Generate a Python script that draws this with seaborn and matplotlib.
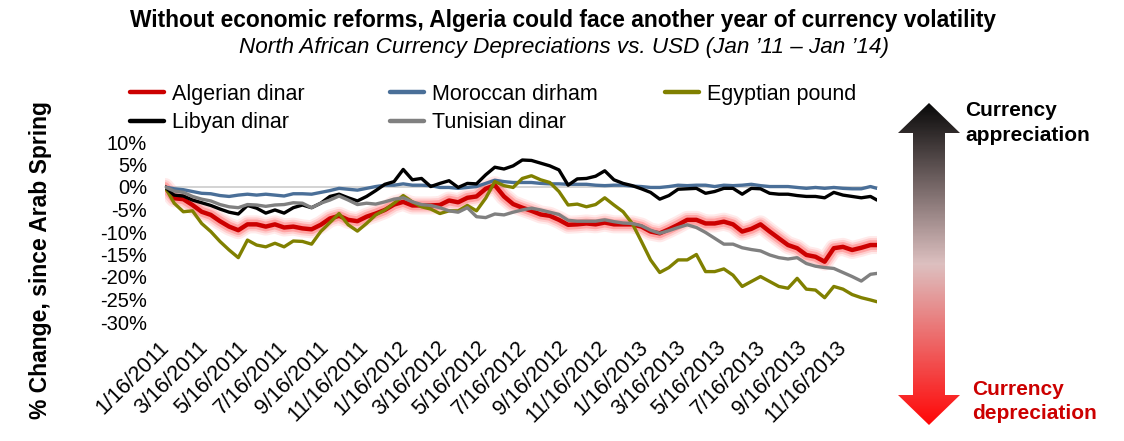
import numpy as np
import pandas as pd
import matplotlib
matplotlib.use("Agg")
import matplotlib.pyplot as plt
import matplotlib.dates as mdates
import matplotlib.patheffects as pe
from matplotlib.lines import Line2D
from matplotlib.patches import Polygon
from matplotlib.colors import LinearSegmentedColormap
import seaborn as sns

# ---------------- data ----------------
dates = list(pd.date_range("2011-01-14", periods=78, freq="14D")) + [pd.Timestamp("2014-01-06")]

algerian = [0, -2.5, -2.7, -4.0, -5.5, -6.2, -7.6, -8.8, -9.6, -8.3,
            -8.3, -8.8, -8.3, -9.0, -8.8, -9.2, -9.4, -8.4, -7.0, -6.4,
            -7.3, -7.6, -6.6, -5.9, -5.1, -3.9, -3.3, -4.1, -4.1, -4.1,
            -4.0, -3.0, -3.4, -2.4, -2.1, -0.4, 0.4, -2.1, -3.8, -4.6,
            -5.3, -6.1, -6.4, -7.3, -8.4, -8.3, -8.1, -8.3, -7.9, -8.3,
            -8.3, -8.3, -8.8, -9.9, -10.3, -9.4, -8.4, -7.3, -7.3, -8.1,
            -8.1, -7.7, -8.3, -9.9, -9.3, -8.3, -9.9, -11.4, -12.9, -13.6,
            -15.1, -15.5, -16.6, -13.6, -13.3, -14.0, -13.5, -12.9, -12.9]

moroccan = [0, -0.4, -0.6, -1.0, -1.4, -1.5, -1.9, -2.1, -1.8, -1.6,
            -1.8, -1.6, -1.8, -2.0, -1.5, -1.5, -1.6, -1.2, -0.8, -0.3,
            -0.5, -0.7, -0.3, 0.1, 0.4, 0.4, 0.7, 0.4, 0.4, 0.3,
            -0.1, -0.1, -0.3, -0.1, 0.1, 0.8, 1.5, 1.2, 1.0, 1.0,
            1.0, 0.8, 0.7, 0.7, 0.6, 0.6, 0.6, 0.4, 0.3, 0.4,
            0.4, 0.2, 0.1, -0.1, -0.1, 0.1, 0.4, 0.3, 0.4, 0.4,
            0.1, 0.4, 0.3, 0.4, 0.6, 0.3, 0.1, 0.1, 0.1, -0.1,
            -0.3, -0.1, -0.3, -0.1, -0.3, -0.4, -0.4, 0.1, -0.3]

egyptian = [0, -3.6, -5.5, -5.3, -8.1, -9.9, -12.1, -14.0, -15.7, -11.8,
            -12.9, -13.3, -12.5, -13.3, -12.0, -12.1, -12.7, -9.9, -7.9, -5.9,
            -8.4, -9.8, -8.1, -6.2, -5.1, -3.6, -1.9, -3.3, -4.4, -4.9,
            -5.9, -5.3, -5.3, -4.1, -5.3, -2.5, 1.2, 0.3, -0.1, 1.9,
            2.5, 1.6, 1.0, -1.0, -4.0, -3.8, -4.4, -3.9, -2.4, -4.0,
            -5.5, -8.1, -12.1, -16.2, -19.0, -17.9, -16.2, -16.2, -15.0, -18.8,
            -18.8, -18.2, -19.6, -22.1, -21.0, -19.9, -21.0, -22.1, -22.5, -20.3,
            -22.7, -22.9, -24.6, -22.1, -22.7, -23.9, -24.6, -25.1, -25.5]

libyan = [0, -1.8, -2.0, -2.9, -3.5, -4.1, -4.9, -5.6, -6.0, -4.1,
          -4.7, -5.8, -5.1, -5.8, -4.6, -4.0, -4.6, -3.6, -2.1, -1.6,
          -2.4, -3.1, -2.1, -0.8, 0.6, 1.2, 3.9, 1.6, 1.9, 0.1,
          0.8, 1.4, -0.1, 0.8, 0.7, 2.7, 4.4, 4.0, 4.7, 6.0,
          5.9, 5.3, 4.7, 3.8, 0.4, 1.8, 1.9, 2.4, 3.6, 1.6,
          0.8, 0.3, -0.4, -1.2, -2.7, -1.9, -0.5, -0.4, -0.3, -1.4,
          -1.0, -0.3, -0.3, -1.6, -0.3, -0.4, -1.4, -1.6, -1.6, -1.9,
          -2.1, -2.1, -2.4, -1.2, -1.8, -2.1, -2.4, -2.1, -2.9]

tunisian = [0, -0.9, -1.2, -2.1, -2.7, -3.1, -3.9, -4.4, -4.6, -3.9,
            -4.0, -4.3, -4.0, -3.9, -3.5, -3.6, -4.6, -3.6, -2.9, -2.0,
            -2.9, -3.9, -3.6, -3.8, -3.3, -2.7, -2.4, -3.3, -3.9, -4.1,
            -4.6, -5.3, -5.6, -4.6, -6.6, -6.8, -6.0, -6.2, -5.6, -5.1,
            -4.7, -5.1, -5.6, -6.1, -7.4, -7.6, -7.6, -7.6, -7.3, -7.7,
            -8.0, -8.1, -8.6, -9.6, -10.3, -9.7, -9.0, -8.4, -9.0, -10.1,
            -11.4, -12.7, -12.7, -13.5, -13.9, -14.2, -15.1, -15.7, -16.0, -15.7,
            -17.0, -17.6, -17.9, -18.1, -19.0, -19.9, -20.9, -19.4, -19.2]

series_names = ["Algerian dinar", "Moroccan dirham", "Egyptian pound",
                "Libyan dinar", "Tunisian dinar"]
series_values = [algerian, moroccan, egyptian, libyan, tunisian]
series_colors = ["#CC0000", "#4A6F98", "#808000", "#000000", "#808080"]

tick_dates = list(pd.date_range("2011-01-01", periods=18, freq="2MS") + pd.Timedelta(days=15))
tick_labels = [f"{d.month}/{d.day}/{d.year}" for d in tick_dates]
y_ticks = [10, 5, 0, -5, -10, -15, -20, -25, -30]
y_tick_labels = [f"{v}%" for v in y_ticks]

# ---------------- figure ----------------
sns.set_theme(style="white")
plt.rcParams["font.family"] = ["Liberation Sans", "DejaVu Sans"]
plt.rcParams["text.color"] = "black"
plt.rcParams["xtick.color"] = "black"
plt.rcParams["ytick.color"] = "black"
plt.rcParams["axes.labelcolor"] = "black"

W, H = 1124, 441
fig = plt.figure(figsize=(W / 100, H / 100), dpi=100)
ax = fig.add_axes([165 / W, 1 - 322 / H, (877 - 165) / W, (322 - 142) / H])

glow = [pe.Stroke(linewidth=13, foreground="#FF8080", alpha=0.16),
        pe.Stroke(linewidth=10, foreground="#FF8080", alpha=0.26),
        pe.Stroke(linewidth=7, foreground="#FF7070", alpha=0.45),
        pe.Normal()]

xnum = mdates.date2num(dates)
for name, vals, col in zip(series_names, series_values, series_colors):
    df = pd.DataFrame({"x": xnum, "y": vals})
    kw = {}
    lw = 2.4
    if name == "Algerian dinar":
        kw["path_effects"] = glow
        lw = 3.2
    sns.lineplot(data=df, x="x", y="y", ax=ax, color=col, linewidth=lw,
                 solid_joinstyle="round", **kw)

ax.set_xlim(xnum[0], xnum[-1])
ax.set_ylim(-30, 10)
ax.set_xlabel("")
ax.set_ylabel("")
ax.set_yticks(y_ticks)
ax.set_yticklabels(y_tick_labels, fontsize=14.5)
ax.tick_params(axis="y", length=0, pad=13)

for s in ["left", "right", "top"]:
    ax.spines[s].set_visible(False)
ax.spines["bottom"].set_position(("data", 0))
ax.spines["bottom"].set_color("#D0D0D0")
ax.spines["bottom"].set_linewidth(1.3)
ax.spines["bottom"].set_zorder(0.5)
tnum = mdates.date2num(tick_dates)
ax.set_xticks(tnum)
ax.tick_params(axis="x", length=5, width=1.2, color="#D0D0D0", direction="out",
               labelbottom=False)

sec = ax.secondary_xaxis("bottom")
sec.set_xticks(tnum)
sec.set_xticklabels(tick_labels, rotation=45, ha="right", va="center",
                    rotation_mode="anchor", fontsize=15.5)
sec.tick_params(length=0, pad=16)
sec.spines["bottom"].set_visible(False)

# legend: three columns placed like the original
handles = {n: Line2D([0], [0], color=c, linewidth=3.2)
           for n, c in zip(series_names, series_colors)}
cols = [(130, ["Algerian dinar", "Libyan dinar"]),
        (390, ["Moroccan dirham", "Tunisian dinar"]),
        (665, ["Egyptian pound"])]
for x0, names in cols:
    fig.legend([handles[n] for n in names], names, loc="upper left",
               bbox_to_anchor=(x0 / W, 1 - 84 / H), frameon=False,
               fontsize=15.5, handlelength=1.6, handletextpad=0.33,
               borderpad=0, borderaxespad=0, labelspacing=0.33)

# titles
fig.text(563 / W, 1 - 20 / H,
         "Without economic reforms, Algeria could face another year of currency volatility",
         ha="center", va="center", fontsize=16.4, fontweight="bold")
fig.text(564 / W, 1 - 47 / H,
         "North African Currency Depreciations vs. USD (Jan \u201911 \u2013 Jan \u201914)",
         ha="center", va="center", fontsize=16.2, style="italic")
fig.text(40 / W, 1 - 260 / H, "% Change, since Arab Spring", rotation=90,
         ha="center", va="center", fontsize=16.5, fontweight="bold")

# gradient arrow on the right
oax = fig.add_axes([0, 0, 1, 1], zorder=-1)
oax.set_xlim(0, W)
oax.set_ylim(H, 0)
oax.axis("off")
poly = Polygon([(929, 103), (960, 133), (945, 133), (945, 395), (960, 395),
                (929, 425), (898, 395), (913, 395), (913, 133), (898, 133)],
               closed=True, transform=oax.transData, facecolor="none", edgecolor="none")
oax.add_patch(poly)
cmap = LinearSegmentedColormap.from_list(
    "arr", [(0, "#0A0A0A"), (0.5, "#DDC0C0"), (0.75, "#EE6464"), (1, "#FF0808")])
grad = np.linspace(0, 1, 300).reshape(-1, 1)
im = oax.imshow(grad, cmap=cmap, aspect="auto", extent=(898, 960, 425, 103),
                interpolation="bilinear")
im.set_clip_path(poly)
oax.set_xlim(0, W)
oax.set_ylim(H, 0)

fig.text(965 / W, 1 - 101 / H, "Currency\nappreciation", ha="left", va="top",
         fontsize=15, fontweight="bold", linespacing=1.4, color="#000000")
fig.text(972 / W, 1 - 380 / H, "Currency\ndepreciation", ha="left", va="top",
         fontsize=15, fontweight="bold", linespacing=1.35, color="#CC0000")

fig.savefig("out.png", dpi=100)
